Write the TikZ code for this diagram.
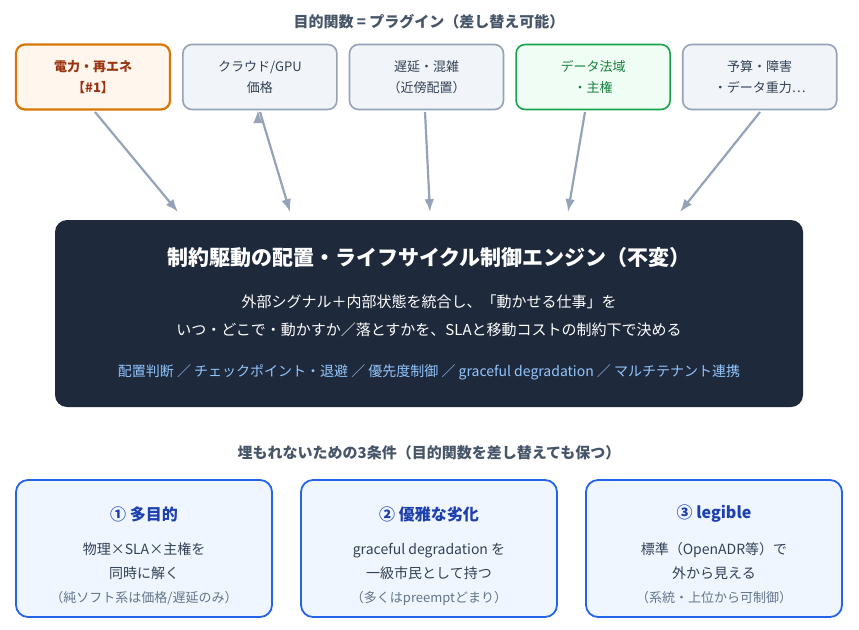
\documentclass[tikz,border=0pt]{standalone}
\usepackage{fontspec}
\setmainfont{Noto Sans CJK JP}
\usetikzlibrary{arrows.meta}
\usetikzlibrary{positioning}
\tikzset{>=Latex}
\definecolor{slatebg}{HTML}{F1F5F9}
\definecolor{slateln}{HTML}{94A3B8}
\definecolor{slatetx}{HTML}{334155}
\definecolor{orangebg}{HTML}{FFF7ED}
\definecolor{orangeln}{HTML}{D97706}
\definecolor{orangetx}{HTML}{9A3412}
\definecolor{greenbg}{HTML}{F0FDF4}
\definecolor{greenln}{HTML}{16A34A}
\definecolor{greentx}{HTML}{15803D}
\definecolor{enginebg}{HTML}{1E293B}
\definecolor{lightblue}{HTML}{93C5FD}
\definecolor{condbg}{HTML}{EFF6FF}
\definecolor{condln}{HTML}{2563EB}
\definecolor{condtx}{HTML}{1E40AF}
\definecolor{headtx}{HTML}{475569}
\definecolor{subtx}{HTML}{64748B}
\tikzset{
  plugin/.style={draw=slateln,fill=slatebg,text=slatetx,line width=1.6pt,
                 rounded corners=9,minimum width=154,minimum height=65,
                 align=center,font=\fontsize{13}{21}\selectfont},
  hot/.style={draw=orangeln,fill=orangebg,text=orangetx,line width=2.2pt},
  legal/.style={draw=greenln,fill=greenbg,text=greentx},
  cond/.style={draw=condln,fill=condbg,line width=1.8pt,rounded corners=12,
               minimum width=256,minimum height=137},
  feed/.style={->,slateln,line width=2.2pt},
  heading/.style={headtx,font=\bfseries\fontsize{15}{18}\selectfont}
}
\begin{document}
\begin{tikzpicture}[x=1pt,y=-1pt]
  \useasboundingbox (0,0) rectangle (859,629);
  % TOP
  \node[heading] (goal) at (429,22) {目的関数 = プラグイン（差し替え可能）};
  \node[plugin,hot] (p1) at (93,77) {\bfseries 電力・再エネ\\\bfseries【\#1】};
  \node[plugin,right=11 of p1] (p2) {クラウド/GPU\\価格};
  \node[plugin,right=11 of p2] (p3) {遅延・混雑\\（近傍配置）};
  \node[plugin,legal,right=11 of p3] (p4) {データ法域\\・主権};
  \node[plugin,right=11 of p4] (p5) {予算・障害\\・データ重力…};
  % ENGINE
  \node[fill=enginebg,rounded corners=12,minimum width=748,minimum height=187] (eng) at (429,313.5) {};
  \node[white,font=\bfseries\fontsize{21}{24}\selectfont] at (429,258) {制約駆動の配置・ライフサイクル制御エンジン（不変）};
  \node[white,align=center,font=\fontsize{15}{28}\selectfont] at (429,316) {外部シグナル＋内部状態を統合し、「動かせる仕事」を\\いつ・どこで・動かすか／落とすかを、SLAと移動コストの制約下で決める};
  \node[lightblue,font=\fontsize{14}{16}\selectfont] at (429,372) {配置判断 ／ チェックポイント・退避 ／ 優先度制御 ／ graceful degradation ／ マルチテナント連携};
  \foreach \x [count=\i] in {178,290,430,568,680}
    \coordinate (in\i) at (\x,212);
  \draw[feed] (95,112) -- (in1);
  \draw[feed] (p2.south)++(-2,0) ++(0,0) coordinate (o2);
  \draw[feed] (260,112) -- (in2);
  \draw[feed] (425,112) -- (in3);
  \draw[feed] (585,112) -- (in4);
  \draw[feed] (760,112) -- (in5);
  % CONDITIONS
  \node[heading] (three) at (429,453) {埋もれないための3条件（目的関数を差し替えても保つ）};
  \foreach \x/\h/\a/\b/\c [count=\i] in {
    144/{① 多目的}/{物理×SLA×主権を}/{同時に解く}/{（純ソフト系は価格/遅延のみ）},
    429/{② 優雅な劣化}/{graceful degradation を}/{一級市民として持つ}/{（多くはpreemptどまり）},
    714/{③ legible}/{標準（OpenADR等）で}/{外から見える}/{（系統・上位から可制御）}}{
    \node[cond] (c\i) at (\x,548.5) {};
    \node[condtx,font=\bfseries\fontsize{16}{18}\selectfont] at (\x,514) {\h};
    \node[slatetx,align=center,font=\fontsize{14}{24}\selectfont] at (\x,561) {\a\\\b};
    \node[subtx,font=\fontsize{13}{15}\selectfont] at (\x,598) {\c};
  }
\end{tikzpicture}
\end{document}
